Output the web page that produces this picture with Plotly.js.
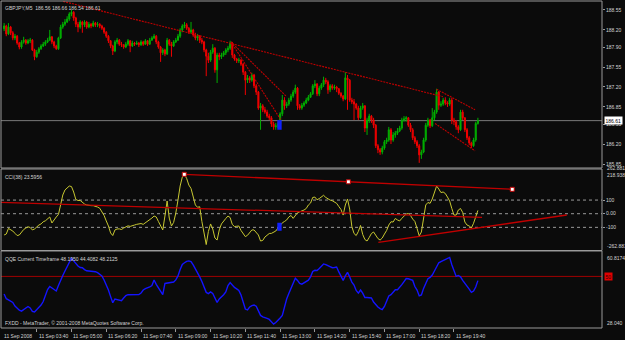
<!DOCTYPE html>
<html><head><meta charset="utf-8">
<script src="https://cdn.plot.ly/plotly-3.0.1.min.js"></script>
<style>html,body{margin:0;padding:0;background:#0b0b0b;overflow:hidden}#chart{width:625px;height:340px;}</style>
</head><body><div id="chart"></div>
<script>
// ---------- data ----------
const headerText = 'GBPJPY,M5  186.56 186.66 186.54 186.61';
const cciHeader = 'CCI(38) 23.5956';
const qqeHeader = 'QQE Current Timeframe 48.1950 44.4082 48.2125';
const footerText = 'FXDD - MetaTrader, \u00a9 2001-2008 MetaQuotes Software Corp.';
const firstBarUTC = [2008, 8, 11, 2, 25];
const barMinutes = 5;

const openP = [188.22,188.27,188.13,188.25,188.15,188.06,188.09,187.97,187.90,187.99,
188.02,187.97,188.01,188.02,187.85,187.73,187.81,187.87,187.92,187.95,
187.99,188.02,188.08,187.99,187.92,187.87,188.06,188.25,188.30,188.34,
188.39,188.48,188.51,188.41,188.30,188.25,188.34,188.29,188.34,188.25,
188.30,188.27,188.32,188.29,188.30,188.27,188.23,188.16,188.09,188.01,
187.92,187.83,187.99,188.02,187.95,187.94,187.90,187.95,188.01,187.92,
187.97,187.95,187.97,187.94,187.99,187.95,188.01,187.95,188.02,188.06,
188.09,187.99,187.90,187.80,187.85,187.78,188.02,187.95,187.92,187.99,
188.02,188.09,188.20,188.27,188.29,188.23,188.16,188.20,188.11,188.06,
188.09,188.02,187.99,187.85,187.74,187.67,187.81,187.88,187.50,187.76,
187.73,187.76,187.80,187.85,187.88,187.97,187.76,187.69,187.66,187.67,
187.60,187.46,187.32,187.36,187.32,187.41,187.22,187.11,186.83,186.87,
186.80,186.76,186.69,186.66,186.55,186.50,186.52,186.55,186.73,186.97,
186.87,186.90,186.97,187.04,187.11,187.18,186.87,186.83,186.88,186.92,
186.97,187.02,187.08,187.22,187.25,187.08,187.18,187.24,187.32,187.29,
187.15,187.22,187.18,187.20,187.17,187.09,187.04,186.99,187.36,187.32,
186.97,186.94,186.90,186.83,186.66,186.83,186.87,186.48,186.62,186.69,
186.62,186.53,186.17,186.10,186.06,186.13,186.24,186.27,186.45,186.27,
186.36,186.39,186.43,186.48,186.62,186.64,186.66,186.53,186.45,186.31,
186.24,186.17,186.01,186.06,186.27,186.53,186.62,186.52,186.66,186.76,
187.11,186.88,186.90,186.97,186.92,186.90,186.97,186.62,186.59,186.50,
186.45,186.76,186.66,186.45,186.31,186.22,186.17,186.27,186.56];
const highP = [188.32,188.29,188.32,188.27,188.18,188.13,188.11,187.99,188.02,188.08,
188.04,188.04,188.06,188.04,187.87,187.85,187.90,187.95,187.99,188.02,
188.06,188.20,188.09,188.01,187.94,188.08,188.29,188.34,188.39,188.44,
188.51,188.55,188.53,188.43,188.34,188.37,188.36,188.37,188.36,188.34,
188.32,188.36,188.34,188.34,188.32,188.29,188.25,188.18,188.11,188.02,
187.94,188.02,188.06,188.04,187.99,187.95,187.99,188.04,188.02,188.01,
187.99,188.01,187.99,188.02,188.01,188.04,188.02,188.06,188.09,188.13,
188.11,188.01,187.92,187.88,187.87,188.06,188.04,187.99,188.02,188.06,
188.13,188.23,188.30,188.34,188.32,188.25,188.34,188.22,188.15,188.13,
188.11,188.06,188.01,187.87,187.80,187.85,187.95,187.90,187.80,187.80,
187.80,187.83,187.88,187.92,188.01,187.99,187.78,187.71,187.71,187.69,
187.62,187.48,187.41,187.39,187.45,187.43,187.25,187.13,186.92,186.90,
186.85,186.80,186.73,186.69,186.59,186.57,186.59,186.76,187.06,187.02,
186.94,187.01,187.08,187.15,187.24,187.20,186.90,186.92,186.95,187.01,
187.06,187.11,187.25,187.32,187.27,187.22,187.27,187.38,187.36,187.32,
187.25,187.25,187.24,187.22,187.18,187.11,187.06,187.46,187.41,187.34,
187.01,186.99,186.92,186.87,186.87,186.92,186.88,186.66,186.73,186.71,
186.66,186.55,186.20,186.13,186.17,186.27,186.31,186.50,186.48,186.41,
186.43,186.48,186.52,186.66,186.69,186.69,186.67,186.57,186.48,186.34,
186.27,186.20,186.10,186.31,186.57,186.66,186.64,186.83,186.80,187.17,
187.13,186.95,187.01,187.02,186.95,187.01,187.01,186.66,186.62,186.53,
186.80,186.80,186.67,186.48,186.34,186.24,186.31,186.59,186.66];
const lowP = [188.18,188.09,188.11,188.11,188.02,188.02,187.94,187.86,187.87,187.96,
187.94,187.95,187.97,187.83,187.67,187.71,187.78,187.85,187.90,187.92,
187.97,188.01,187.95,187.88,187.85,187.85,188.04,188.22,188.27,188.32,
188.36,188.44,188.36,188.25,188.16,188.22,188.15,188.25,188.22,188.23,
188.23,188.25,188.25,188.25,188.23,188.20,188.13,188.06,187.97,187.88,
187.76,187.81,187.95,187.92,187.90,187.87,187.88,187.92,187.81,187.90,
187.92,187.94,187.90,187.92,187.92,187.94,187.92,187.94,188.01,188.04,
187.95,187.87,187.64,187.76,187.74,187.76,187.92,187.73,187.90,187.97,
188.01,188.06,188.16,188.23,188.20,188.13,188.13,188.08,188.02,188.01,
187.97,187.95,187.81,187.39,187.62,187.64,187.78,187.45,187.27,187.67,
187.69,187.73,187.76,187.81,187.85,187.71,187.66,187.62,187.62,187.57,
187.41,187.06,187.27,187.27,187.29,187.18,187.06,186.80,186.45,186.76,
186.73,186.66,186.62,186.50,186.45,186.45,186.48,186.52,186.69,186.80,
186.83,186.87,186.94,187.01,187.08,186.80,186.80,186.80,186.85,186.90,
186.95,187.01,187.06,187.18,187.04,187.04,187.15,187.20,187.25,187.08,
187.11,187.15,187.15,187.11,187.06,187.01,186.95,186.97,186.80,186.94,
186.90,186.62,186.80,186.62,186.64,186.80,186.41,186.36,186.57,186.57,
186.48,186.13,186.04,186.01,186.02,186.10,186.20,186.24,186.20,186.24,
186.31,186.36,186.41,186.45,186.59,186.59,186.50,186.41,186.27,186.20,
186.13,185.87,185.94,186.04,186.24,186.50,186.48,186.50,186.62,186.73,
186.80,186.85,186.87,186.88,186.85,186.87,186.55,186.53,186.45,186.39,
186.43,186.62,186.41,186.27,186.18,186.13,186.15,186.24,186.54];
const closeP = [188.27,188.13,188.25,188.15,188.06,188.09,187.97,187.90,187.99,188.02,
187.97,188.01,188.02,187.85,187.73,187.81,187.87,187.92,187.95,187.99,
188.02,188.08,187.99,187.92,187.87,188.06,188.25,188.30,188.34,188.39,
188.48,188.51,188.41,188.30,188.25,188.34,188.29,188.34,188.25,188.30,
188.27,188.32,188.29,188.30,188.27,188.23,188.16,188.09,188.01,187.92,
187.83,187.99,188.02,187.95,187.94,187.90,187.95,188.01,187.92,187.97,
187.95,187.97,187.94,187.99,187.95,188.01,187.95,188.02,188.06,188.09,
187.99,187.90,187.80,187.85,187.78,188.02,187.95,187.92,187.99,188.02,
188.09,188.20,188.27,188.29,188.23,188.16,188.20,188.11,188.06,188.09,
188.02,187.99,187.85,187.74,187.67,187.81,187.88,187.50,187.76,187.73,
187.76,187.80,187.85,187.88,187.97,187.76,187.69,187.66,187.67,187.60,
187.46,187.32,187.36,187.32,187.41,187.22,187.11,186.83,186.87,186.80,
186.76,186.69,186.66,186.55,186.50,186.52,186.55,186.73,186.97,186.87,
186.90,186.97,187.04,187.11,187.18,186.87,186.83,186.88,186.92,186.97,
187.02,187.08,187.22,187.25,187.08,187.18,187.24,187.32,187.29,187.15,
187.22,187.18,187.20,187.17,187.09,187.04,186.99,187.36,187.32,186.97,
186.94,186.90,186.83,186.66,186.83,186.87,186.48,186.62,186.69,186.62,
186.53,186.17,186.10,186.06,186.13,186.24,186.27,186.45,186.27,186.36,
186.39,186.43,186.48,186.62,186.64,186.66,186.53,186.45,186.31,186.24,
186.17,186.01,186.06,186.27,186.53,186.62,186.52,186.66,186.76,187.11,
186.88,186.90,186.97,186.92,186.90,186.97,186.62,186.59,186.50,186.45,
186.76,186.66,186.45,186.31,186.22,186.17,186.27,186.56,186.61];

const cciValues = [-156,-149,-108,-116,-127,-144,-160,-156,-134,-116,
-105,-96,-101,-119,-112,-95,-83,-75,-59,-52,
-35,-24,-68,-42,-24,-6,64,137,174,192,
203,199,159,104,97,97,80,71,64,59,
59,59,55,49,40,16,-13,-53,-90,-141,
-160,-119,-112,-111,-116,-105,-95,-89,-93,-90,
-83,-78,-73,-72,-78,-67,-56,-48,-32,-17,
-24,-57,-86,-119,-17,93,-32,-90,-64,5,
100,203,269,287,258,210,185,130,64,47,
51,-57,-145,-226,-130,-75,-112,-178,-193,-119,
-75,-50,-35,-17,-28,-79,-94,-92,-90,-123,
-149,-168,-158,-138,-119,-119,-134,-156,-200,-196,
-171,-156,-145,-144,-134,-127,-105,-83,-67,-57,
-46,-24,-13,-34,-10,7,14,20,27,38,
64,78,119,122,102,111,122,135,119,108,
100,95,86,76,53,31,-10,64,108,34,
-94,-145,-160,-130,-86,-152,-189,-200,-174,-145,
-134,-160,-182,-193,-178,-149,-123,-83,-59,-61,
-35,-46,-53,-34,-17,-2,1,-13,-39,-57,
-108,-163,-134,-32,64,82,76,108,159,203,
181,155,159,148,122,93,38,-10,-10,27,
38,9,-61,-83,-90,-105,-70,-13,24];

const qqeValues = [42.5,40.5,40.0,39.5,38.9,37.4,36.3,35.6,35.2,35.9,
36.6,37.2,36.6,35.1,34.9,35.8,36.8,37.8,39.3,42.1,
44.4,45.7,45.1,44.3,43.8,46.1,48.7,50.4,52.3,54.0,
55.9,57.8,56.6,55.3,54.4,53.8,53.7,52.9,52.4,52.3,
52.2,52.4,52.0,51.6,51.0,50.2,48.5,46.6,44.2,41.4,
38.8,40.4,40.2,40.0,39.7,40.8,41.8,42.2,42.2,42.3,
42.5,42.4,42.3,42.9,44.2,44.8,45.0,45.5,46.1,48.5,
46.6,45.3,43.9,42.2,47.0,47.2,47.3,47.4,47.6,48.5,
50.2,52.9,55.1,55.8,56.4,56.6,56.3,54.9,53.4,51.9,
49.8,47.8,45.5,43.2,42.7,43.4,42.7,40.4,38.9,40.4,
41.2,42.2,43.4,46.1,47.4,46.3,45.3,44.7,44.0,42.1,
39.3,36.1,35.7,37.0,37.6,37.8,37.3,35.1,33.4,32.8,
32.3,32.1,31.7,30.8,29.7,30.4,31.2,32.3,33.4,37.0,
40.4,42.7,45.0,47.5,49.2,48.3,47.0,46.7,47.2,47.8,
48.4,49.8,52.1,52.6,52.5,53.4,54.4,55.3,55.0,54.6,
53.9,53.7,53.8,54.0,51.9,49.8,48.3,50.2,51.7,49.8,
47.6,46.3,44.0,42.9,44.2,42.9,41.0,41.0,41.0,40.8,
39.1,37.8,37.0,36.3,35.9,37.2,39.3,41.7,42.2,43.2,
44.3,44.3,45.3,46.5,47.8,49.1,49.0,48.6,48.3,45.7,
44.2,41.7,42.1,44.9,47.4,49.0,49.6,50.6,52.3,54.4,
55.8,56.3,56.8,57.1,57.6,58.1,55.0,52.4,50.0,50.4,
49.8,48.3,47.2,45.9,44.6,43.2,43.8,45.5,48.2];

// axis labels
const priceTickVals = [188.55,188.20,187.90,187.55,187.20,186.85,186.55,186.20,185.85];
const priceTickText = ['188.55','188.20','187.90','187.55','187.20','186.85','186.55','186.20','185.85'];
const cciLevels = [100, 0, -100];
const cciLevelText = ['100', '0.00', '-100'];
const cciScaleMax = 327.5, cciScaleMin = -269.6;
const cciTopText = ['262.881', '218.938'];
const cciBottomText = '-262.8814';
const qqeScaleMax = 60.8174, qqeScaleMin = 28.040;
const qqeTopText = '60.8174', qqeBottomText = '28.040';
const qqeLevel = 50;
const timeTickVals = ['2008-09-11 03:40','2008-09-11 05:00','2008-09-11 06:20','2008-09-11 07:40','2008-09-11 09:00','2008-09-11 10:20','2008-09-11 11:40','2008-09-11 13:00','2008-09-11 14:20','2008-09-11 15:40','2008-09-11 17:00','2008-09-11 18:20','2008-09-11 19:40'];
const timeTickText = ['11 Sep 03:40','11 Sep 05:00','11 Sep 06:20','11 Sep 07:40','11 Sep 09:00','11 Sep 10:20','11 Sep 11:40','11 Sep 13:00','11 Sep 14:20','11 Sep 15:40','11 Sep 17:00','11 Sep 18:20','11 Sep 19:40'];
const firstTimeText = '11 Sep 2008';

// drawn objects (bar index, value)
const priceLineStartBar = [27.2, 199.0, 198.3, 104.4, 104.4];
const priceLineStartVal = [188.70, 187.16, 186.56, 187.99, 187.99];
const priceLineEndBar = [201.9, 216.7, 216.7, 127.4, 130.0];
const priceLineEndVal = [187.03, 186.80, 186.08, 186.62, 187.03];
const cciLineStartBar = [82.9, -1.9, 172.2];
const cciLineStartVal = [288.6, 83.5, -209.5];
const cciLineEndBar = [233.8, 219.9, 258.9];
const cciLineEndVal = [178.8, -26.4, -9.5];
const cciAnchorBar = [82.9, 158.4, 233.8];
const cciAnchorVal = [288.6, 233.7, 178.8];
const signalBar = [125.7, 127.7];
const signalPrice = [186.45, 186.62];
const signalCci = [-124.5, -66];

// ---------- build ----------
const t0 = Date.UTC(...firstBarUTC);
const step = barMinutes * 60000;
const barTime = b => t0 + b * step;
const times = closeP.map((_, i) => barTime(i));
const xRange = [barTime(-1.43), barTime(275.1)];

const FONT = 'Liberation Sans, Arial, sans-serif';
const FS = 5;
const TXT = '#d4d4d4';
const GRAY = '#9a9a9a';
const RED = '#c00000';

const D1 = [0.4893, 1], D2 = [0.2370, 0.4862], D3 = [0, 0.2355];
const priceRange = [185.78, 188.707];

const traces = [];
traces.push({
  type: 'candlestick', x: times, open: openP, high: highP, low: lowP, close: closeP,
  xaxis: 'x', yaxis: 'y', whiskerwidth: 0, hoverinfo: 'skip',
  increasing: {line: {color: '#00b000', width: 1}, fillcolor: '#00b000'},
  decreasing: {line: {color: '#f00000', width: 1}, fillcolor: '#f00000'}
});
for (let k = 0; k < priceLineStartBar.length; k++) {
  traces.push({type: 'scatter', mode: 'lines', xaxis: 'x', yaxis: 'y', hoverinfo: 'skip',
    x: [barTime(priceLineStartBar[k]), barTime(priceLineEndBar[k])],
    y: [priceLineStartVal[k], priceLineEndVal[k]],
    line: {color: '#c00000', width: 1.1, dash: '2px,1px'}});
}
traces.push({type: 'scatter', mode: 'lines', x: times, y: cciValues, xaxis: 'x', yaxis: 'y2',
  line: {color: '#c8c832', width: 1}, hoverinfo: 'skip'});
for (let k = 0; k < cciLineStartBar.length; k++) {
  traces.push({type: 'scatter', mode: 'lines', xaxis: 'x', yaxis: 'y2', hoverinfo: 'skip',
    x: [barTime(cciLineStartBar[k]), barTime(cciLineEndBar[k])],
    y: [cciLineStartVal[k], cciLineEndVal[k]],
    line: {color: RED, width: 1.3}});
}
traces.push({type: 'scatter', mode: 'markers', xaxis: 'x', yaxis: 'y2', hoverinfo: 'skip',
  x: cciAnchorBar.map(barTime), y: cciAnchorVal,
  marker: {symbol: 'square', size: 4, color: '#ffffff', line: {color: RED, width: 1}}});
traces.push({type: 'scatter', mode: 'lines', x: times, y: qqeValues, xaxis: 'x', yaxis: 'y3',
  line: {color: '#1414ff', width: 1.4}, hoverinfo: 'skip'});

const lastClose = closeP[closeP.length - 1];
const shapes = [];
[D1, D2, D3].forEach(d => shapes.push({type: 'rect', xref: 'paper', yref: 'paper', x0: 0, x1: 1, y0: d[0], y1: d[1], line: {color: GRAY, width: 1}, layer: 'above'}));
shapes.push({type: 'line', xref: 'paper', x0: 0, x1: 1, yref: 'y', y0: lastClose, y1: lastClose, line: {color: '#7a7a7a', width: 1}, layer: 'below'});
cciLevels.forEach(v => shapes.push({type: 'line', xref: 'paper', x0: 0, x1: 1, yref: 'y2', y0: v, y1: v, line: {color: '#9a9a9a', width: 1, dash: 'dot'}, layer: 'below'}));
shapes.push({type: 'line', xref: 'paper', x0: 0, x1: 1, yref: 'y3', y0: qqeLevel, y1: qqeLevel, line: {color: '#a00000', width: 1}, layer: 'below'});
shapes.push({type: 'rect', xref: 'x', yref: 'y', x0: barTime(signalBar[0]), x1: barTime(signalBar[1]), y0: signalPrice[0], y1: signalPrice[1], fillcolor: '#1020ff', line: {width: 0}});
shapes.push({type: 'rect', xref: 'x', yref: 'y2', x0: barTime(signalBar[0]), x1: barTime(signalBar[1]), y0: signalCci[0], y1: signalCci[1], fillcolor: '#1020ff', line: {width: 0}});

const f = (s, c) => ({family: FONT, size: s, color: c || TXT});
const ann = [];
ann.push({xref: 'paper', yref: 'paper', x: 0, y: D1[1], xanchor: 'left', yanchor: 'top', xshift: 2, yshift: -2, text: headerText, showarrow: false, font: f(FS)});
ann.push({xref: 'paper', yref: 'paper', x: 0, y: D2[1], xanchor: 'left', yanchor: 'top', xshift: 2, yshift: -3, text: cciHeader, showarrow: false, font: f(FS)});
ann.push({xref: 'paper', yref: 'paper', x: 0, y: D3[1], xanchor: 'left', yanchor: 'top', xshift: 2, yshift: -3, text: qqeHeader, showarrow: false, font: f(FS)});
ann.push({xref: 'paper', yref: 'paper', x: 0, y: D3[0], xanchor: 'left', yanchor: 'bottom', xshift: 2, yshift: 0, text: footerText, showarrow: false, font: f(FS)});
// right scale labels
ann.push({xref: 'paper', yref: 'y', x: 1, y: lastClose, xanchor: 'left', yanchor: 'middle', xshift: 2, text: lastClose.toFixed(2), showarrow: false, font: f(FS, '#000000'), bgcolor: '#ffffff', borderpad: 0.5});
ann.push({xref: 'paper', yref: 'paper', x: 1, y: D2[1], xanchor: 'left', yanchor: 'middle', xshift: 3, yshift: 1, text: cciTopText[0], showarrow: false, font: f(FS)});
ann.push({xref: 'paper', yref: 'paper', x: 1, y: D2[1], xanchor: 'left', yanchor: 'top', xshift: 3, yshift: -1, text: cciTopText[1], showarrow: false, font: f(FS)});
ann.push({xref: 'paper', yref: 'paper', x: 1, y: D2[0], xanchor: 'left', yanchor: 'bottom', xshift: 3, yshift: 0, text: cciBottomText, showarrow: false, font: f(FS)});
ann.push({xref: 'paper', yref: 'paper', x: 1, y: D3[1], xanchor: 'left', yanchor: 'top', xshift: 3, yshift: -2, text: qqeTopText, showarrow: false, font: f(FS)});
ann.push({xref: 'paper', yref: 'paper', x: 1, y: D3[0], xanchor: 'left', yanchor: 'bottom', xshift: 3, yshift: 0, text: qqeBottomText, showarrow: false, font: f(FS)});
ann.push({xref: 'paper', yref: 'y3', x: 1, y: qqeLevel, xanchor: 'left', yanchor: 'middle', xshift: 2, text: String(qqeLevel), showarrow: false, font: f(FS, '#300000'), bgcolor: '#e00000', borderpad: 0.5});
// time labels
ann.push({xref: 'x', yref: 'paper', x: xRange[0], y: 0, xanchor: 'left', yanchor: 'top', xshift: 1, yshift: -3, text: firstTimeText, showarrow: false, font: f(FS)});
timeTickVals.forEach((t, i) => ann.push({xref: 'x', yref: 'paper', x: t, y: 0, xanchor: 'left', yanchor: 'top', xshift: 0, yshift: -3, text: timeTickText[i], showarrow: false, font: f(FS)}));

const yCommon = {side: 'right', showgrid: false, zeroline: false, fixedrange: true, ticks: 'outside', ticklen: 2, tickcolor: GRAY, tickfont: f(FS), anchor: 'x'};
const layout = {
  width: 625, height: 340, paper_bgcolor: '#0b0b0b', plot_bgcolor: '#0b0b0b',
  margin: {l: 1, r: 23, t: 1, b: 12}, showlegend: false, dragmode: false,
  xaxis: {type: 'date', range: xRange, anchor: 'y3', showgrid: false, zeroline: false, showline: false,
    ticks: 'outside', ticklen: 3, tickcolor: GRAY, tickvals: timeTickVals, showticklabels: false,
    rangeslider: {visible: false}, fixedrange: true},
  yaxis: Object.assign({}, yCommon, {domain: D1, range: priceRange, tickvals: priceTickVals, ticktext: priceTickText}),
  yaxis2: Object.assign({}, yCommon, {domain: D2, range: [cciScaleMin, cciScaleMax], tickvals: cciLevels, ticktext: cciLevelText}),
  yaxis3: Object.assign({}, yCommon, {domain: D3, range: [qqeScaleMin, qqeScaleMax], tickvals: [], ticks: ''}),
  shapes: shapes, annotations: ann
};
Plotly.newPlot('chart', traces, layout, {staticPlot: true, displayModeBar: false});
</script></body></html>
